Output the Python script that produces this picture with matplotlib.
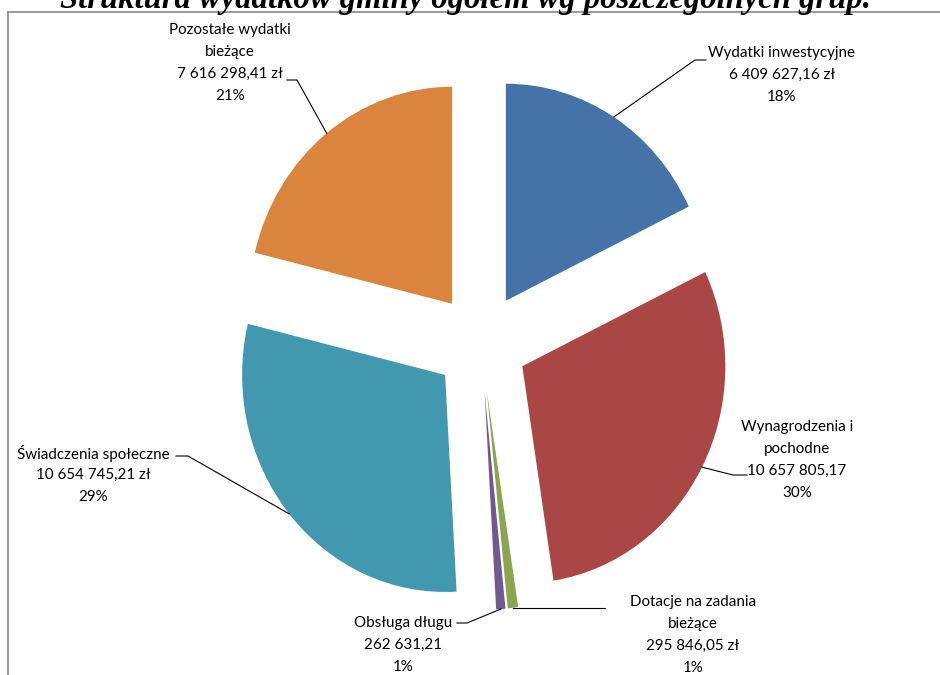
import numpy as np
import matplotlib
matplotlib.use("Agg")
import matplotlib.pyplot as plt
from matplotlib.lines import Line2D

# data (clockwise from 12 o'clock)
names = ["Wydatki inwestycyjne", "Wynagrodzenia i\npochodne", "Dotacje na zadania\nbieżące",
         "Obsługa długu", "Świadczenia społeczne", "Pozostałe wydatki\nbieżące"]
values = [6409627.16, 10657805.17, 295846.05, 262631.21, 10654745.21, 7616298.41]
value_labels = ["6 409 627,16 zł", "10 657 805,17", "295 846,05 zł",
                "262 631,21", "10 654 745,21 zł", "7 616 298,41 zł"]
pct_labels = ["18%", "30%", "1%", "1%", "29%", "21%"]
colors = ["#4572A7", "#AA4643", "#89A54E", "#71588F", "#4198AF", "#DB843D"]

title = "Struktura wydatków gminy ogółem wg poszczególnych grup."

W, H = 940, 675
CX, CY = 481, 343      # pie centre, px from top-left
RX, RY = 203, 217      # pie is a bit stretched vertically

fig = plt.figure(figsize=(W / 100, H / 100), dpi=100)
ax = fig.add_axes([0, 0, 1, 1])

wedges, _ = ax.pie(values, explode=[0.23] * len(values), startangle=90,
                   counterclock=False, colors=colors,
                   wedgeprops=dict(linewidth=0))
ax.set_aspect("auto")
ax.set_xlim(-CX / RX, (W - CX) / RX)
ax.set_ylim(-(H - CY) / RY, CY / RY)
ax.axis("off")


def to_px(x, y):
    return CX + x * RX, CY - y * RY


def fx(x):
    return x / W


def fy(y):
    return 1 - y / H


# label text positions (centre x, first-line y) and leader elbows, px
label_pos = [(782, 53), (797, 427), (693, 602), (403, 623), (93, 453), (230, 30)]
elbows = [[(695, 60), (706, 60)],
          [(733, 475), (747, 475)],
          [(605, None)],
          [(467, 623), (457, 623)],
          [(188, 456), (176, 456)],
          [(297, 80), (287, 80)]]

for w, name, val, pct, (lx, ly), elb in zip(wedges, names, value_labels, pct_labels,
                                            label_pos, elbows):
    ang = np.deg2rad((w.theta1 + w.theta2) / 2)
    cx, cy = w.center
    px, py = to_px(cx + np.cos(ang), cy + np.sin(ang))
    pts = [(px, py)] + [(ex, py if ey is None else ey) for ex, ey in elb]
    xs = [fx(p[0]) for p in pts]
    ys = [fy(p[1]) for p in pts]
    fig.add_artist(Line2D(xs, ys, color="black", lw=0.8))
    lines = name.split("\n") + [val, pct]
    for i, t in enumerate(lines):
        fig.text(fx(lx), fy(ly + i * 22), t, ha="center", va="center",
                 fontsize=10.9, family="Lato", color="black")

# frame of the chart area (cut off at right/bottom)
fig.add_artist(Line2D([fx(8), fx(W)], [fy(12), fy(12)], color="#888888", lw=1.2))
fig.add_artist(Line2D([fx(8), fx(8)], [fy(12), fy(H)], color="#888888", lw=1.2))

fig.text(fx(465), fy(8), title, ha="center", va="baseline", fontsize=23.5,
         family="Liberation Serif", weight="bold", style="italic")

fig.savefig("out.png", dpi=100, facecolor="white")
